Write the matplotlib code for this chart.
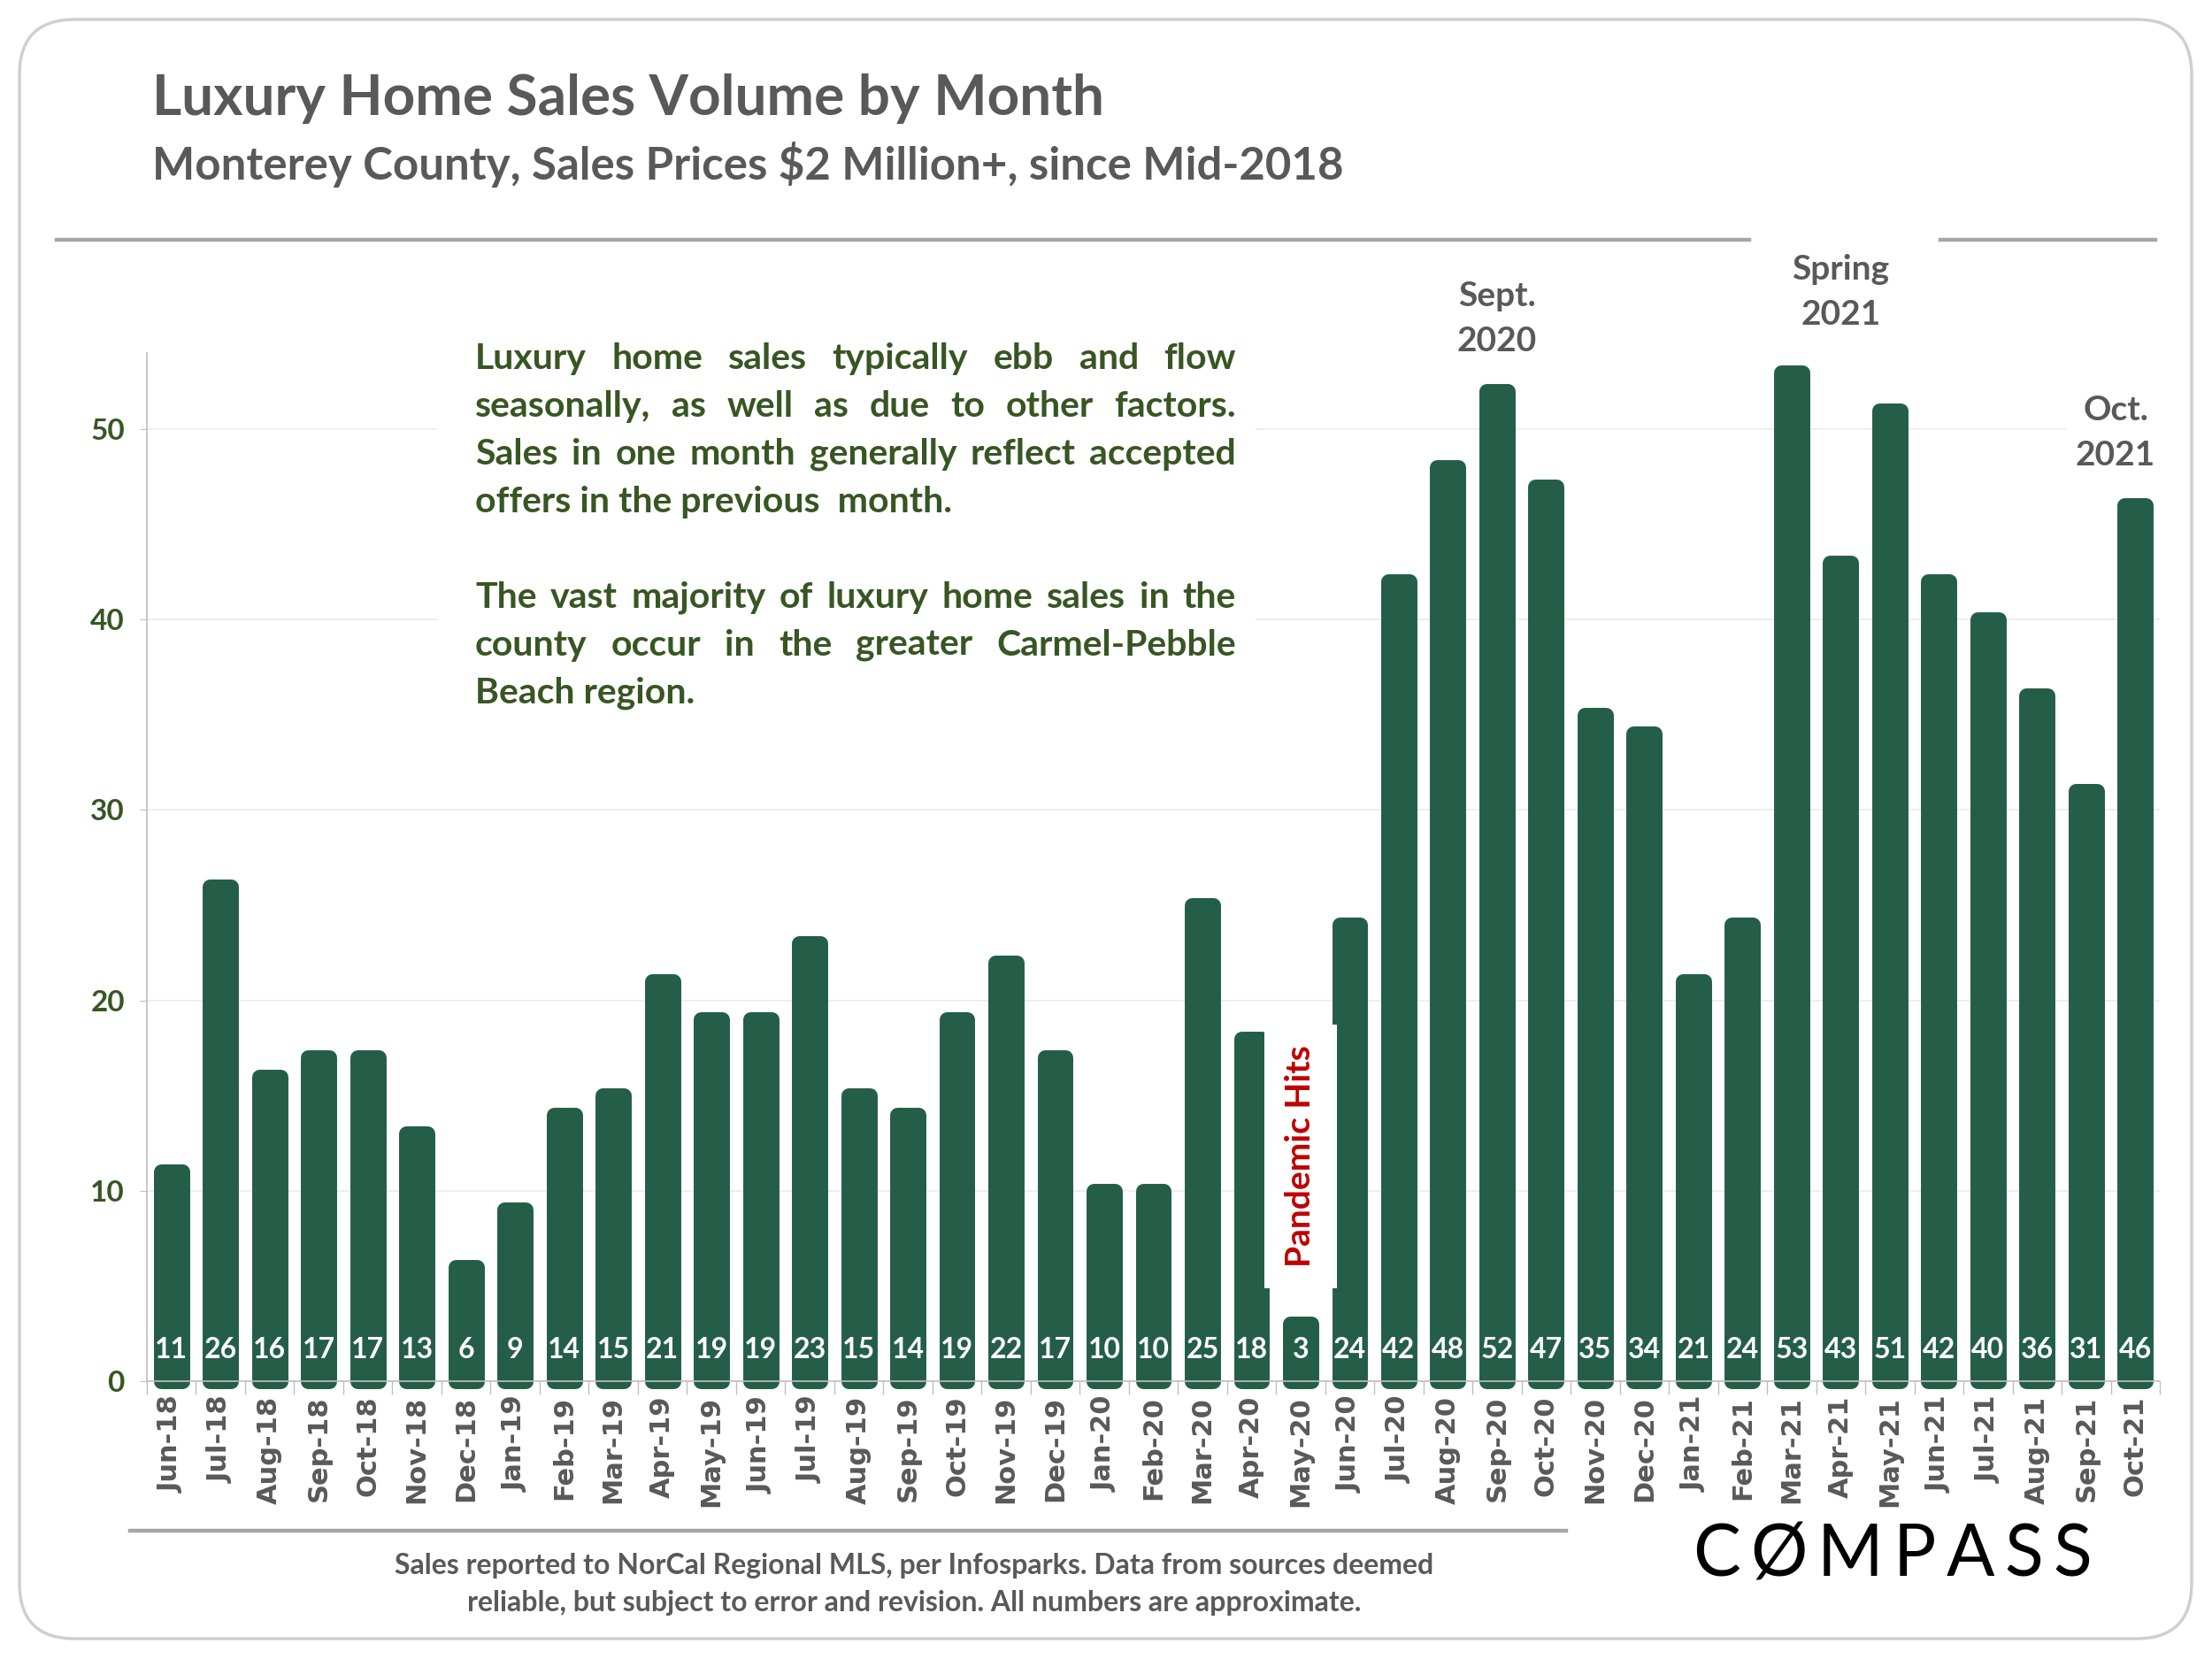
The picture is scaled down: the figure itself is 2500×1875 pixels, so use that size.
import numpy as np
import matplotlib
matplotlib.use('Agg')
import matplotlib.pyplot as plt
from matplotlib.patches import FancyBboxPatch, Rectangle
from matplotlib.lines import Line2D

months = ['Jun-18', 'Jul-18', 'Aug-18', 'Sep-18', 'Oct-18', 'Nov-18', 'Dec-18',
          'Jan-19', 'Feb-19', 'Mar-19', 'Apr-19', 'May-19', 'Jun-19', 'Jul-19',
          'Aug-19', 'Sep-19', 'Oct-19', 'Nov-19', 'Dec-19',
          'Jan-20', 'Feb-20', 'Mar-20', 'Apr-20', 'May-20', 'Jun-20', 'Jul-20',
          'Aug-20', 'Sep-20', 'Oct-20', 'Nov-20', 'Dec-20',
          'Jan-21', 'Feb-21', 'Mar-21', 'Apr-21', 'May-21', 'Jun-21', 'Jul-21',
          'Aug-21', 'Sep-21', 'Oct-21']
sales = [11, 26, 16, 17, 17, 13, 6,
         9, 14, 15, 21, 19, 19, 23, 15, 14, 19, 22, 17,
         10, 10, 25, 18, 3, 24, 42, 48, 52, 47, 35, 34,
         21, 24, 53, 43, 51, 42, 40, 36, 31, 46]
yticks = [0, 10, 20, 30, 40, 50]

note_lines = [('Luxury home sales typically ebb and flow', True),
              ('seasonally, as well as due to other factors.', True),
              ('Sales in one month generally reflect accepted', True),
              ('offers in the previous  month.', False),
              ('The vast majority of luxury home sales in the', True),
              ('county occur in the greater Carmel-Pebble', True),
              ('Beach region.', False)]

W, H = 2500, 1875
GREEN = '#245E48'
TXT_GREEN = '#375623'
GRAY = '#595959'
FONT = 'Lato'

def fx(px):
    return px / W

def fy(py):
    return 1 - py / H

fig = plt.figure(figsize=(25, 18.75), dpi=100)
fig.patch.set_facecolor('white')

# rounded card border
fig.add_artist(FancyBboxPatch((fx(22), fy(1852)), fx(2455), 1830 / H,
                              boxstyle='round,pad=0,rounding_size=0.025',
                              transform=fig.transFigure, fc='white', ec='#CFCFCF',
                              lw=2.5, zorder=-5, mutation_aspect=W / H))

ax = fig.add_axes([fx(166), fy(1561), fx(2441) - fx(166), (1561 - 399) / H])
x = np.arange(len(months))
ax.bar(x, sales, width=0.43, color=GREEN, edgecolor=GREEN, linewidth=12.2,
       joinstyle='round', clip_on=False, zorder=2)
for i, v in enumerate(sales):
    ax.text(i, 1.65, str(v), ha='center', va='center', color='white',
            fontsize=23, fontweight='bold', family=FONT, zorder=3)

ax.set_xlim(-0.5, len(months) - 0.5)
ax.set_ylim(0, 54)
ax.set_yticks(yticks)
ax.set_yticklabels([str(t) for t in yticks], color=TXT_GREEN, fontsize=24,
                   fontweight='bold', family=FONT)
ax.set_xticks(x)
ax.set_xticklabels(months, rotation=90, color=GRAY, fontsize=22,
                   fontweight='bold', family='DejaVu Sans')
ax.set_xticks(np.arange(-0.5, len(months)), minor=True)
ax.tick_params(axis='x', which='major', length=0, pad=12)
ax.tick_params(axis='x', which='minor', length=11, color='#BFBFBF', width=1)
ax.tick_params(axis='y', length=6, color='#BFBFBF', pad=12)
ax.grid(axis='y', color='#EBEBEB', lw=1.2)
ax.set_axisbelow(True)
for s in ['top', 'right']:
    ax.spines[s].set_visible(False)
for s in ['left', 'bottom']:
    ax.spines[s].set_color('#BFBFBF')
    ax.spines[s].set_linewidth(1.2)

# white box behind the note (hides gridlines)
ax.add_patch(Rectangle(((494 - 166) / (2441 - 166), (1561 - 810) / (1561 - 399)),
                       (1419 - 494) / (2441 - 166), 1, transform=ax.transAxes,
                       fc='white', ec='none', zorder=1))

# callouts above bars
call = dict(ha='center', va='center', color=GRAY, fontsize=28, fontweight='bold',
            family=FONT, linespacing=1.55)
ax.text(months.index('Sep-20'), 55.8, 'Sept.\n2020', **call)
ax.text(months.index('Apr-21'), 57.2, 'Spring\n2021', **call)
ax.text(months.index('Oct-21') - 0.4, 49.8, 'Oct.\n2021',
        bbox=dict(fc='white', ec='none', pad=8), zorder=1.5, **call)
ax.text(months.index('May-20'), 11.8, 'Pandemic Hits', rotation=90, ha='center',
        va='center', color='#C00000', fontsize=28, fontweight='bold', family=FONT,
        bbox=dict(boxstyle='square,pad=0.6', fc='white', ec='none'), zorder=4)

# title
fig.text(fx(172), fy(112), 'Luxury Home Sales Volume by Month', ha='left', va='center',
         color=GRAY, fontsize=46, fontweight='bold', family=FONT)
fig.text(fx(172), fy(186), 'Monterey County, Sales Prices $2 Million+, since Mid-2018',
         ha='left', va='center', color=GRAY, fontsize=36.7, fontweight='bold', family=FONT)

fig.add_artist(Line2D([fx(64), fx(1977)], [fy(271)] * 2, color='#A6A6A6', lw=3.2))
fig.add_artist(Line2D([fx(2193), fx(2436)], [fy(271)] * 2, color='#A6A6A6', lw=3.2))
fig.add_artist(Line2D([fx(147), fx(1770)], [fy(1730)] * 2, color='#A6A6A6', lw=3.2))

# justified note text
rend = fig.canvas.get_renderer()
x0, x1 = 537, 1397
ys = [417, 471, 525, 579, 687, 741, 795]
for (line, just), yy in zip(note_lines, ys):
    kw = dict(ha='left', va='baseline', color=TXT_GREEN, fontsize=29.5,
              fontweight='bold', family=FONT)
    if not just:
        fig.text(fx(x0), fy(yy), line, **kw)
        continue
    words = line.split()
    ts = [fig.text(0, fy(yy), w, **kw) for w in words]
    ws = [t.get_window_extent(rend).width for t in ts]
    gap = max((x1 - x0 - sum(ws)) / (len(words) - 1), 6)
    xx = x0
    for t, w in zip(ts, ws):
        t.set_x(fx(xx))
        xx += w + gap

# footer
foot = dict(ha='center', va='center', color=GRAY, fontsize=23, fontweight='bold', family=FONT)
fig.text(fx(1033), fy(1770), 'Sales reported to NorCal Regional MLS, per Infosparks. Data from sources deemed', **foot)
fig.text(fx(1033), fy(1811), 'reliable, but subject to error and revision. All numbers are approximate.', **foot)

# logo text with tracking
letters = list('C\u00d8MPASS')
lx0, lx1 = 1913, 2364
lt = [fig.text(0, fy(1758), c, ha='left', va='center', color='black',
               fontsize=58, fontweight='normal', family=FONT) for c in letters]
lw_ = [t.get_window_extent(rend).width for t in lt]
lgap = (lx1 - lx0 - sum(lw_)) / (len(letters) - 1)
xx = lx0
for t, w in zip(lt, lw_):
    t.set_x(fx(xx))
    xx += w + lgap

fig.savefig('out.png', dpi=100)
